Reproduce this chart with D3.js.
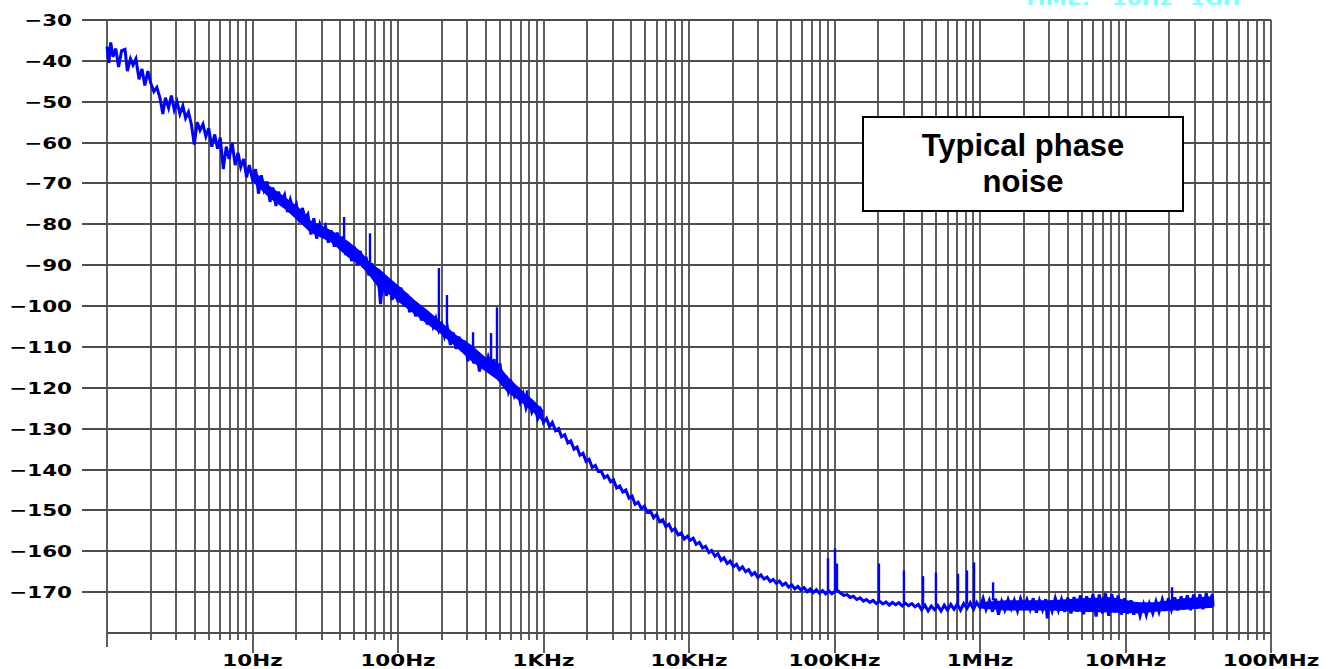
<!DOCTYPE html>
<html>
<head>
<meta charset="utf-8">
<script src="https://cdn.jsdelivr.net/npm/d3@7"></script>
<style>
  body { margin: 0; background: #fff; }
  svg { display: block; }
</style>
</head>
<body>
<svg id="chart"></svg>
<script>
const width = 1332;
const height = 669;

// y axis (dB) and x axis (Hz) ticks
const yTicks = [-30, -40, -50, -60, -70, -80, -90, -100, -110, -120, -130, -140, -150, -160, -170];
const xLabelHz = [10, 100, 1e3, 1e4, 1e5, 1e6, 1e7, 1e8];
const xLabels = ["10Hz", "100Hz", "1KHz", "10KHz", "100KHz", "1MHz", "10MHz", "100MHz"];
const noteLines = ["Typical phase", "noise"];
const headerWords = ["TIME:", "10Hz", "1GH"];

const trace = [
  [1.00, -36.5], [1.03, -40.5], [1.06, -35.5], [1.10, -39], [1.15, -37], [1.20, -41.5], [1.26, -37.5],
  [1.33, -37.2], [1.38, -42.5], [1.45, -39.5], [1.51, -41], [1.58, -39.5], [1.66, -44.5], [1.74, -42],
  [1.82, -46], [1.91, -42.5], [2.0, -45.5], [2.1, -47.5], [2.2, -46.5], [2.31, -49], [2.42, -53],
  [2.52, -49], [2.65, -51.5], [2.77, -48.5], [2.9, -52], [3.03, -50], [3.17, -53], [3.32, -51],
  [3.47, -54], [3.63, -52.5], [3.8, -55.5], [3.98, -60.5], [4.17, -55], [4.36, -57], [4.57, -55.5],
  [4.78, -58.5], [5.0, -56.5], [5.25, -61], [5.5, -58], [5.75, -61.5], [6.0, -58.8], [6.3, -66.5],
  [6.6, -61], [6.9, -64], [7.25, -60], [7.6, -65.5], [7.95, -62.5], [8.3, -66], [8.7, -64],
  [9.1, -68.5], [9.5, -65.5], [10, -69],
  [10.5, -66.5], [11.0, -72.5], [11.5, -68], [12.0, -71.5], [12.6, -69.5], [13.2, -74.5], [13.8, -71],
  [14.5, -75.5], [15.1, -72], [15.8, -74.5], [16.6, -72.8], [17.4, -77], [18.2, -74], [19.1, -76.5],
  [20.0, -75], [21.0, -79.5], [22.0, -76], [23.0, -78.5], [24.0, -77.5], [25.2, -82.5], [26.4, -78.5],
  [27.6, -83.5], [29.0, -80], [30.3, -82], [31.7, -80.5], [33.2, -84.5], [34.8, -81.5], [36.5, -85.5],
  [38.2, -82], [40.0, -86], [41.8, -83], [43.8, -87.5], [45.8, -84.5], [48.0, -89], [50.2, -85.5],
  [52.6, -90], [55.0, -86.5], [57.6, -90.5], [60.3, -88], [63.1, -92.5], [66.1, -89.5], [69.2, -94],
  [72.4, -91], [75.8, -99.5], [79.4, -92.5], [83.1, -97.5], [87.0, -94], [91.1, -98.5], [95.4, -95],
  [100, -99],
  [105, -95.5], [110, -100], [115, -97], [120, -101.5], [126, -98.5], [132, -102.5], [138, -100],
  [145, -103.5], [152, -101], [159, -104.5], [166, -102], [174, -105], [182, -103], [191, -106],
  [200, -104.5], [209, -107.5], [219, -105.5], [229, -109.5], [240, -106.5], [251, -110.5], [263, -107.5],
  [275, -111], [288, -108.5], [302, -113.5], [316, -110], [331, -114], [347, -111.5], [363, -116],
  [380, -112.5], [398, -115.5], [417, -112.5], [437, -115], [457, -113], [479, -117.5], [501, -114],
  [525, -119.5], [550, -117], [575, -121], [603, -119], [631, -122], [661, -120.5], [692, -123.5],
  [724, -121.5], [759, -125], [794, -123], [832, -126], [871, -124.5], [912, -127.5], [955, -125.5],
  [1000, -128.5],
  [1050, -127.5], [1100, -129.5], [1150, -128.5], [1210, -130.5], [1270, -130], [1330, -132], [1400, -131.5],
  [1470, -133.5], [1540, -133], [1620, -135], [1700, -134.5], [1780, -136.5], [1870, -136], [1960, -138],
  [2060, -137.5], [2160, -139.5], [2270, -139], [2380, -140.5], [2500, -140.5], [2620, -142], [2750, -141.5],
  [2890, -143], [3030, -142.5], [3180, -144.5], [3340, -144], [3510, -145.5], [3680, -145], [3870, -147],
  [4060, -146.5], [4260, -148.5], [4470, -148], [4700, -149.5], [4930, -149], [5180, -150.5], [5440, -150.2],
  [5710, -151.8], [5990, -151], [6290, -152.8], [6600, -152.3], [6930, -154], [7280, -153.4], [7640, -155],
  [8020, -154.5], [8420, -156], [8840, -155.5], [9280, -157], [9750, -156.3], [10200, -157.3],
  [10700, -156.8], [11200, -158.3], [11800, -157.8], [12400, -159.2], [13000, -158.8], [13700, -160.3],
  [14300, -159.8], [15100, -161.2], [15800, -160.6], [16600, -162.2], [17400, -161.6], [18300, -163],
  [19200, -162.4], [20200, -163.8], [21200, -163.2], [22200, -164.5], [23300, -163.8], [24500, -165],
  [25700, -164.5], [27000, -165.8], [28300, -165.2], [29700, -166.4], [31200, -165.8], [32800, -166.8],
  [34400, -166.3], [36100, -167.4], [37900, -166.9], [39800, -167.8], [41800, -167.3], [43900, -168.3],
  [46100, -167.8], [48400, -168.8], [50800, -168.2], [53400, -169.2], [56000, -168.6], [58800, -169.5],
  [61800, -168.9], [64900, -169.9], [68100, -169.2], [71500, -170.1], [75100, -169.4], [78900, -170.3],
  [82800, -169.6], [87000, -170.4], [91300, -169.7], [95900, -170.4], [100700, -169.8],
  [105000, -169.6], [110000, -170.2], [116000, -170.8], [122000, -170.6], [128000, -171.3], [135000, -171],
  [142000, -171.8], [150000, -171.4], [158000, -172.2], [166000, -171.8], [175000, -172.5], [184000, -172],
  [194000, -172.8], [204000, -172.2], [215000, -172.9], [226000, -172.4], [238000, -173.2], [250000, -172.5],
  [263000, -173.1], [277000, -172.6], [292000, -173.4], [307000, -172.7], [323000, -173.3], [340000, -172.8],
  [358000, -173.6], [377000, -173], [397000, -174.3], [418000, -173.2], [440000, -174.6], [463000, -173.4],
  [487000, -174.3], [513000, -173.3], [540000, -174.6], [568000, -173.2], [598000, -174.4], [630000, -173],
  [663000, -174.2], [698000, -172.9], [735000, -174.4], [773000, -172.8], [814000, -174], [857000, -172.6],
  [902000, -174.2], [950000, -172.5], [1000000, -173.8],
  [1.05e6, -171.5], [1.1e6, -174.2], [1.16e6, -172], [1.22e6, -174.8], [1.28e6, -171.6], [1.34e6, -175.5],
  [1.41e6, -172.3], [1.48e6, -174.4], [1.56e6, -171.8], [1.64e6, -174], [1.72e6, -172], [1.81e6, -174.6],
  [1.9e6, -171.6], [2.0e6, -173.8], [2.1e6, -171.8], [2.21e6, -174.2], [2.32e6, -171.5], [2.44e6, -175],
  [2.56e6, -172], [2.69e6, -174.3], [2.83e6, -171.7], [2.9e6, -176.4], [2.98e6, -172.2], [3.13e6, -174.6],
  [3.29e6, -171.5], [3.46e6, -174.4], [3.63e6, -171.8], [3.82e6, -174.8], [4.01e6, -171.3], [4.22e6, -175.2],
  [4.43e6, -171.2], [4.66e6, -174.8], [4.9e6, -170.8], [5.15e6, -175.4], [5.41e6, -171], [5.69e6, -174.7],
  [5.98e6, -170.5], [6.28e6, -176], [6.6e6, -170.6], [6.94e6, -175.2], [7.3e6, -170.3], [7.67e6, -175.8],
  [8.06e6, -170.5], [8.47e6, -175], [8.9e6, -170.8], [9.36e6, -175.5], [9.84e6, -171.5], [1.03e7, -175.3],
  [1.09e7, -172], [1.14e7, -175.5], [1.2e7, -172.5], [1.26e7, -175.8], [1.33e7, -173], [1.39e7, -175.6],
  [1.46e7, -172.8], [1.54e7, -175.2], [1.62e7, -172.3], [1.7e7, -174.8], [1.79e7, -171.8], [1.88e7, -174.6],
  [1.97e7, -171.5], [2.07e7, -174.3], [2.18e7, -171.3], [2.29e7, -174.5], [2.41e7, -171], [2.53e7, -174.2],
  [2.66e7, -170.8], [2.8e7, -174.4], [2.94e7, -170.6], [3.09e7, -174], [3.25e7, -170.5], [3.41e7, -174.2],
  [3.59e7, -170.3], [3.77e7, -173.8], [3.95e7, -170.5], [4.0e7, -173.5]
];

// dense core of the noise band, [Hz, upper dB, lower dB]
const bandAudio = [
  [10, -66.5, -69.5], [13, -70.5, -73.5], [17, -73.5, -76.5], [21, -76, -79.5],
  [25, -79, -82], [35, -81.5, -84.5], [45, -84, -88], [55, -86.5, -90], [65, -89.5, -93],
  [75, -91, -96], [90, -93.5, -97.5], [105, -95.5, -99.5], [130, -98.5, -102], [160, -101, -104.5],
  [200, -104, -107], [250, -107, -110], [320, -109.5, -113.5], [400, -112.5, -116], [480, -114, -118],
  [560, -117, -121], [700, -120.5, -123.5], [850, -123, -126], [1000, -125.5, -128.5]
];
const bandFloor = [
  [1.0e6, -172.5, -174], [1.5e6, -172, -174.5], [3e6, -172, -174.5], [5e6, -171.5, -174.8],
  [8e6, -171.2, -175], [1.2e7, -172.5, -175.2], [1.6e7, -172.5, -174.8], [2.5e7, -171.5, -174.3],
  [4e7, -171, -173.8]
];

// discrete spurs: [Hz, base dB, peak dB]
const spurs = [
  [42.6, -84, -78.2], [64.2, -90, -82.2], [191, -105, -90.7], [217, -106, -97.3],
  [328, -112, -106.4], [436, -114, -106.6], [479, -115, -100.3], [770, -124, -120.6],
  [90200, -169.8, -161.7], [100800, -169.5, -159.3], [104000, -170, -163],
  [202000, -172.3, -163], [300000, -172.8, -164.7], [406000, -173.2, -166.1], [498000, -173.5, -165.2],
  [706000, -173.2, -165.5], [814000, -173, -164.7], [910000, -173, -162.7], [1.23e6, -172, -167.6],
  [2.09e7, -172, -168.8]
];

const plotLeft = 107, plotRight = 1271, plotTop = 20, plotBottom = 633;

const x = d3.scaleLog().domain([1, 1e8]).range([plotLeft, plotRight]);
const y = d3.scaleLinear().domain([-180, -30]).range([plotBottom, plotTop]);

const svg = d3.select("#chart")
  .attr("width", width)
  .attr("height", height)
  .attr("viewBox", [0, 0, width, height])
  .style("font-family", "'DejaVu Sans', Verdana, sans-serif");

svg.append("rect").attr("width", width).attr("height", height).attr("fill", "#fff");

const gridColor = "#4d4d4d";
const isDecade = v => Math.abs(Math.log10(v) - Math.round(Math.log10(v))) < 1e-9;

// vertical grid lines, continuing below the axis as ticks
svg.append("g")
  .attr("stroke", gridColor)
  .attr("stroke-width", 1.8)
  .selectAll("line")
  .data(x.ticks())
  .join("line")
  .attr("x1", d => Math.round(x(d)))
  .attr("x2", d => Math.round(x(d)))
  .attr("y1", y(-30))
  .attr("y2", d => d === 1 ? plotBottom + 14 : isDecade(d) ? plotBottom + 20 : plotBottom + 7);

// horizontal grid lines, continuing left as ticks
svg.append("g")
  .attr("stroke", gridColor)
  .attr("stroke-width", 1.8)
  .selectAll("line")
  .data(yTicks)
  .join("line")
  .attr("x1", plotLeft - 25)
  .attr("x2", plotRight)
  .attr("y1", d => Math.round(y(d)))
  .attr("y2", d => Math.round(y(d)));

// bottom axis line
svg.append("line")
  .attr("stroke", gridColor)
  .attr("stroke-width", 1.8)
  .attr("x1", plotLeft).attr("x2", plotRight)
  .attr("y1", y(-180)).attr("y2", y(-180));

// labels (wide bold pixel-ish font)
const fmt = d3.format("d");
svg.append("g")
  .attr("font-size", 16.5)
  .attr("font-weight", "bold")
  .attr("fill", "#000")
  .attr("text-anchor", "end")
  .selectAll("text")
  .data(yTicks)
  .join("text")
  .attr("transform", d => `translate(72,${Math.round(y(d)) + 6}) scale(1.3,1)`)
  .text(d => fmt(d));

svg.append("g")
  .attr("font-size", 16.5)
  .attr("font-weight", "bold")
  .attr("fill", "#000")
  .attr("text-anchor", "middle")
  .selectAll("text")
  .data(xLabelHz)
  .join("text")
  .attr("transform", d => `translate(${x(d)},666) scale(1.3,1)`)
  .text((d, i) => xLabels[i]);

// noise band core
const area = d3.area()
  .x(d => x(d[0]))
  .y0(d => y(d[2]))
  .y1(d => y(d[1]));

svg.append("g")
  .attr("fill", "#0000ff")
  .selectAll("path")
  .data([bandAudio, bandFloor])
  .join("path")
  .attr("d", area);

// trace
const line = d3.line()
  .x(d => x(d[0]))
  .y(d => y(d[1]));

svg.append("path")
  .datum(trace)
  .attr("fill", "none")
  .attr("stroke", "#0000ff")
  .attr("stroke-width", 3)
  .attr("stroke-linejoin", "miter")
  .attr("d", line);

svg.append("g")
  .attr("stroke", "#0000ff")
  .attr("stroke-width", 2.4)
  .selectAll("line")
  .data(spurs)
  .join("line")
  .attr("x1", d => x(d[0]))
  .attr("x2", d => x(d[0]))
  .attr("y1", d => y(d[1]))
  .attr("y2", d => y(d[2]));

// note box
svg.append("rect")
  .attr("x", 863).attr("y", 117)
  .attr("width", 320).attr("height", 94)
  .attr("fill", "#fff")
  .attr("stroke", "#000")
  .attr("stroke-width", 2);

svg.append("g")
  .attr("font-family", "'Liberation Sans', Arial, sans-serif")
  .attr("font-size", 31)
  .attr("font-weight", "bold")
  .attr("text-anchor", "middle")
  .selectAll("text")
  .data(noteLines)
  .join("text")
  .attr("x", 1023)
  .attr("y", (d, i) => 156 + i * 36)
  .text(d => d);

// header text, mostly cut off at the top edge (as in the source image)
const headerX = [1023, 1112, 1190];
svg.append("g")
  .attr("font-size", 16.5)
  .attr("font-weight", "bold")
  .attr("fill", "#80ffff")
  .selectAll("text")
  .data(headerWords)
  .join("text")
  .attr("transform", (d, i) => `translate(${headerX[i]},5) scale(1.3,1)`)
  .text(d => d);
</script>
</body>
</html>
